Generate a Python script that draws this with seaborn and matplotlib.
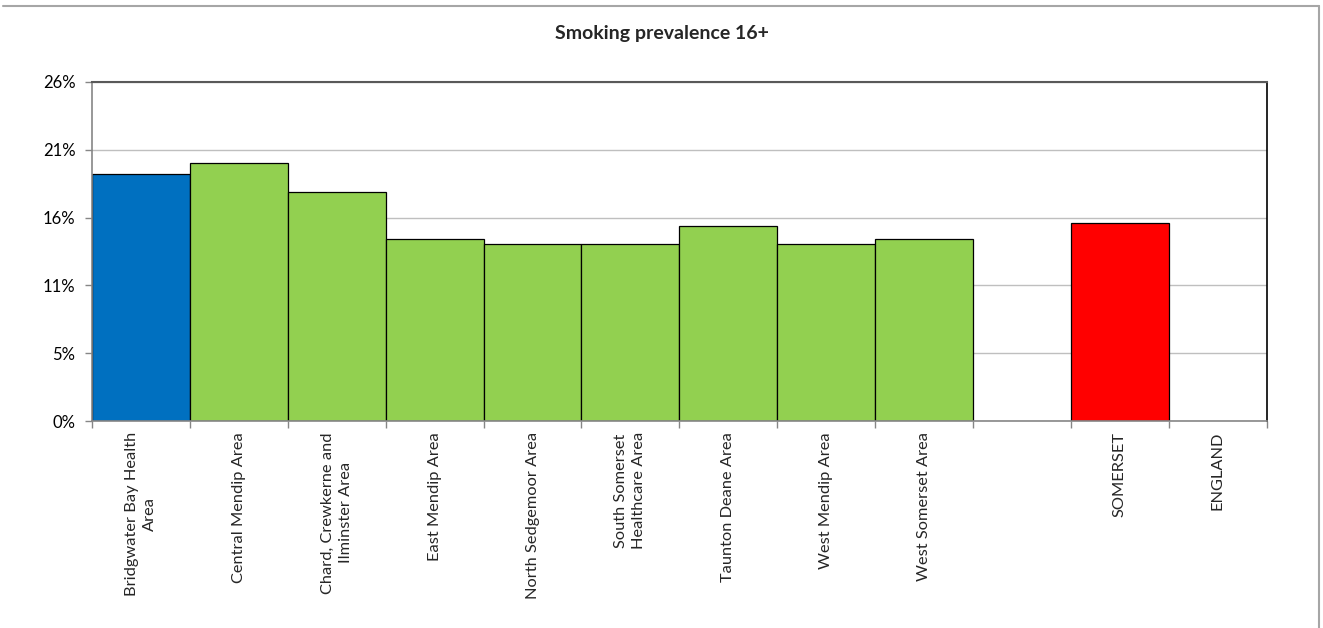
import numpy as np
import pandas as pd
import matplotlib
matplotlib.use("Agg")
import matplotlib.pyplot as plt
from matplotlib.lines import Line2D
import seaborn as sns

# ---- data ----
categories = ["Bridgwater Bay Health Area", "Central Mendip Area",
              "Chard, Crewkerne and Ilminster Area", "East Mendip Area",
              "North Sedgemoor Area", "South Somerset Healthcare Area",
              "Taunton Deane Area", "West Mendip Area", "West Somerset Area",
              " ", "SOMERSET", "ENGLAND"]
tick_labels = ["Bridgwater Bay Health\nArea", "Central Mendip Area",
               "Chard, Crewkerne and\nIlminster Area", "East Mendip Area",
               "North Sedgemoor Area", "South Somerset\nHealthcare Area",
               "Taunton Deane Area", "West Mendip Area", "West Somerset Area",
               "", "SOMERSET", "ENGLAND"]
values = [19.2, 20.0, 17.76, 14.1, 13.77, 13.77, 15.16, 13.71, 14.1,
          np.nan, 15.39, np.nan]
bar_colors = ["#0070C0", "#92D050", "#92D050", "#92D050", "#92D050", "#92D050",
              "#92D050", "#92D050", "#92D050", "#FFFFFF", "#FF0000", "#FFFFFF"]
y_ticks = [0, 5.26, 10.52, 15.78, 21.04, 26.3]
y_tick_labels = ["0%", "5%", "11%", "16%", "21%", "26%"]
title = "Smoking prevalence 16+"

sns.set_style("white")
plt.rcParams["font.family"] = ["Lato", "DejaVu Sans"]

df = pd.DataFrame({"cat": categories, "val": values})

fig = plt.figure(figsize=(13.23, 6.28), dpi=100)
ax = fig.add_axes([92 / 1323, 1 - 421 / 628, (1266.7 - 92) / 1323, (421 - 82) / 628])

sns.barplot(data=df, x="cat", y="val", hue="cat", order=categories,
            hue_order=categories, palette=dict(zip(categories, bar_colors)),
            width=1.0, dodge=False, legend=False, edgecolor="black",
            linewidth=0.9, saturation=1, ax=ax, zorder=3)

ax.set_xlim(-0.5, len(categories) - 0.5)
ax.set_ylim(0, y_ticks[-1])
ax.set_yticks(y_ticks)
ax.set_yticklabels(y_tick_labels, fontsize=12, color="black")
ax.set_xlabel("")
ax.set_ylabel("")

ax.yaxis.grid(True, color="#BFBFBF", linewidth=1.0, zorder=0)
ax.set_axisbelow(True)

# x ticks at category boundaries, labels centered
ax.set_xticks(np.arange(-0.5, len(categories), 1.0), minor=False)
ax.set_xticklabels([])
ax.set_xticks(np.arange(len(categories)), minor=True)
ax.set_xticklabels(tick_labels, minor=True, rotation=90, ha="center", va="top",
                   multialignment="center", fontsize=11.8, linespacing=1.35)
ax.tick_params(axis="x", which="major", length=5, width=1, color="#868686",
               direction="out", bottom=True)
ax.tick_params(axis="x", which="minor", length=0, pad=8)
ax.tick_params(axis="y", length=5, width=1, color="#868686", direction="out",
               left=True, pad=7)

for side in ["left", "bottom"]:
    ax.spines[side].set_color("#868686")
    ax.spines[side].set_linewidth(1.2)
ax.spines["top"].set_color("#595959")
ax.spines["top"].set_linewidth(1.5)
ax.spines["right"].set_color("black")
ax.spines["right"].set_linewidth(1.2)
for s in ax.spines.values():
    s.set_visible(True)
    s.set_zorder(5)

fig.text(0.5, 1 - 33 / 628, title, ha="center", va="center",
         fontsize=14, fontweight="bold")

# outer chart border (top and right)
fig.add_artist(Line2D([3 / 1323, 1318.5 / 1323], [1 - 6 / 628, 1 - 6 / 628],
                      color="#A6A6A6", linewidth=1.5, transform=fig.transFigure))
fig.add_artist(Line2D([1318.5 / 1323, 1318.5 / 1323], [1 - 6 / 628, 0],
                      color="#A6A6A6", linewidth=1.5, transform=fig.transFigure))

fig.savefig("out.png", dpi=100, facecolor="white")
